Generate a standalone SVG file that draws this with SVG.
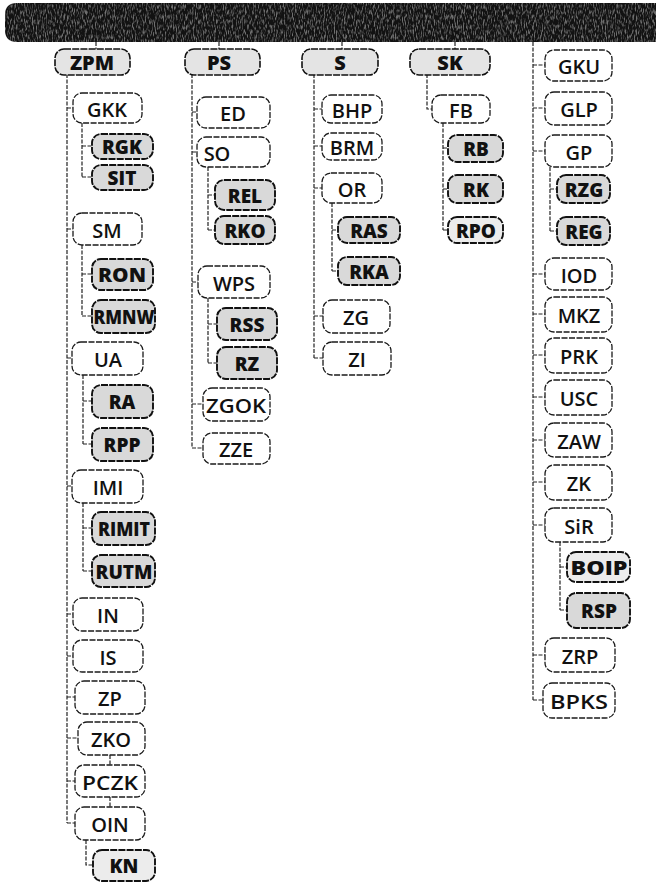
<svg xmlns="http://www.w3.org/2000/svg" width="656" height="883" viewBox="0 0 656 883">
<defs>
<style>
.n rect{fill:#fff;stroke:#1a1a1a;stroke-width:1.3;stroke-dasharray:6 1.5}
.b rect{fill:#d9d9d9;stroke:#111;stroke-width:1.9;stroke-dasharray:7 1.2}
.t rect{fill:#e4e4e4;stroke:#111;stroke-width:1.6;stroke-dasharray:7 1.2}
text{font-family:"Open Sans","DejaVu Sans",sans-serif;font-size:20px;font-weight:600;text-anchor:middle;dominant-baseline:central;fill:#111}
.b text{font-weight:800;font-size:19px}
.t text{font-weight:800;font-size:20px}
#conn path{fill:none;stroke:#222;stroke-width:1.2;stroke-dasharray:4 1.5}
</style>
<filter id="noise" x="0" y="0" width="100%" height="100%">
<feTurbulence type="fractalNoise" baseFrequency="0.9 0.2" numOctaves="2" seed="7"/>
<feColorMatrix type="matrix" values="0 0 0 0 1  0 0 0 0 1  0 0 0 0 1  3.5 0 0 0 -1.6"/>
</filter>
<clipPath id="bandclip"><path d="M5 15 Q5 3 17 3 H656 V42 H17 Q5 42 5 30 Z"/></clipPath>
</defs>
<rect width="656" height="883" fill="#fff"/>
<g id="band">
<path d="M5 15 Q5 3 17 3 H656 V42 H17 Q5 42 5 30 Z" fill="#121212"/>
<rect x="5" y="3" width="651" height="39" filter="url(#noise)" clip-path="url(#bandclip)" opacity="0.4"/>
</g>
<g id="conn">
<path d="M96 42V49M219 42V49M342 42V49M455 42V49"/>
<path d="M67 74V823M67 108H73M67 229H73M67 358H72M67 486H72M67 614H73M67 656H73M67 697H75M67 738H78M67 781H75M67 823H75"/>
<path d="M82 123V177M82 146H92M82 177H92"/>
<path d="M82 245V316M82 274H92M82 316H92"/>
<path d="M83 375V444M83 401H92M83 444H92"/>
<path d="M83 503V571M83 528H92M83 571H92"/>
<path d="M86 840V865H93"/>
<path d="M110 755V765M110 797V807"/>
<path d="M192 74V448M192 112H197M192 152H197M192 282H198M192 404H203M192 448H203"/>
<path d="M208 167V230M208 195H215M208 230H215"/>
<path d="M208 298V363M208 324H217M208 363H217"/>
<path d="M314 74V358M314 109H322M314 146H322M314 188H322M314 316H323M314 358H323"/>
<path d="M332 203V271M332 230H338M332 271H338"/>
<path d="M427 74V109H432"/>
<path d="M443 123V230M443 148H448M443 189H448M443 230H448"/>
<path d="M533 42V700M533 65H545M533 108H545M533 151H545M533 274H545M533 314H545M533 355H545M533 397H545M533 440H545M533 482H545M533 525H545M533 655H545M533 700H543"/>
<path d="M550 167V231M550 189H557M550 231H557"/>
<path d="M560 542V610M560 567H567M560 610H567"/>
</g>
<g id="ZPM" class="t"><rect x="55" y="49" width="75" height="26" rx="9"/><text x="92" y="62">ZPM</text></g>
<g id="GKK" class="n"><rect x="73" y="93" width="69" height="30" rx="9"/><text x="107" y="109">GKK</text></g>
<g id="RGK" class="b"><rect x="92" y="134" width="61" height="25" rx="9"/><text x="122" y="147">RGK</text></g>
<g id="SIT" class="b"><rect x="92" y="165" width="61" height="25" rx="9"/><text x="122" y="178">SIT</text></g>
<g id="SM" class="n"><rect x="73" y="213" width="69" height="32" rx="9"/><text x="107" y="230">SM</text></g>
<g id="RON" class="b"><rect x="92" y="259" width="61" height="31" rx="9"/><text x="122" y="275" font-size="16" textLength="48" lengthAdjust="spacingAndGlyphs">RON</text></g>
<g id="RMNW" class="b"><rect x="92" y="300" width="63" height="33" rx="9"/><text x="124" y="317" textLength="61" lengthAdjust="spacingAndGlyphs">RMNW</text></g>
<g id="UA" class="n"><rect x="72" y="342" width="71" height="33" rx="9"/><text x="108" y="359">UA</text></g>
<g id="RA" class="b"><rect x="92" y="385" width="61" height="33" rx="9"/><text x="122" y="402">RA</text></g>
<g id="RPP" class="b"><rect x="92" y="428" width="61" height="33" rx="9"/><text x="122" y="445">RPP</text></g>
<g id="IMI" class="n"><rect x="72" y="470" width="71" height="33" rx="9"/><text x="108" y="487">IMI</text></g>
<g id="RIMIT" class="b"><rect x="92" y="512" width="63" height="33" rx="9"/><text x="124" y="529" font-size="16" textLength="52" lengthAdjust="spacingAndGlyphs">RIMIT</text></g>
<g id="RUTM" class="b"><rect x="92" y="555" width="63" height="32" rx="9"/><text x="124" y="572" textLength="57" lengthAdjust="spacingAndGlyphs">RUTM</text></g>
<g id="IN" class="n"><rect x="73" y="598" width="70" height="33" rx="9"/><text x="108" y="615">IN</text></g>
<g id="IS" class="n"><rect x="73" y="640" width="70" height="32" rx="9"/><text x="108" y="657">IS</text></g>
<g id="ZP" class="n"><rect x="75" y="681" width="70" height="33" rx="9"/><text x="110" y="698">ZP</text></g>
<g id="ZKO" class="n"><rect x="78" y="722" width="67" height="33" rx="9"/><text x="111" y="739">ZKO</text></g>
<g id="PCZK" class="n"><rect x="75" y="765" width="70" height="32" rx="9"/><text x="110" y="782" textLength="56" lengthAdjust="spacingAndGlyphs">PCZK</text></g>
<g id="OIN" class="n"><rect x="75" y="807" width="70" height="33" rx="9"/><text x="110" y="824">OIN</text></g>
<g id="KN" class="b"><rect x="93" y="850" width="62" height="31" rx="9" style="fill:#ececec"/><text x="124" y="866">KN</text></g>
<g id="PS" class="t"><rect x="185" y="49" width="75" height="26" rx="9"/><text x="219" y="62">PS</text></g>
<g id="ED" class="n"><rect x="197" y="97" width="73" height="31" rx="9"/><text x="233" y="113">ED</text></g>
<g id="SO" class="n"><rect x="197" y="137" width="73" height="30" rx="9"/><text x="217" y="153">SO</text></g>
<g id="REL" class="b"><rect x="215" y="180" width="60" height="30" rx="9"/><text x="245" y="196">REL</text></g>
<g id="RKO" class="b"><rect x="215" y="216" width="60" height="28" rx="9"/><text x="245" y="231">RKO</text></g>
<g id="WPS" class="n"><rect x="198" y="266" width="72" height="32" rx="9"/><text x="234" y="283">WPS</text></g>
<g id="RSS" class="b"><rect x="217" y="308" width="60" height="32" rx="9"/><text x="247" y="325">RSS</text></g>
<g id="RZ" class="b"><rect x="217" y="347" width="60" height="32" rx="9"/><text x="247" y="364">RZ</text></g>
<g id="ZGOK" class="n"><rect x="203" y="388" width="67" height="33" rx="9"/><text x="236" y="405" textLength="60" lengthAdjust="spacingAndGlyphs">ZGOK</text></g>
<g id="ZZE" class="n"><rect x="203" y="433" width="67" height="31" rx="9"/><text x="236" y="449">ZZE</text></g>
<g id="S" class="t"><rect x="302" y="49" width="76" height="26" rx="9"/><text x="340" y="62">S</text></g>
<g id="BHP" class="n"><rect x="322" y="95" width="60" height="28" rx="9"/><text x="352" y="110">BHP</text></g>
<g id="BRM" class="n"><rect x="322" y="133" width="60" height="27" rx="9"/><text x="352" y="147">BRM</text></g>
<g id="OR" class="n"><rect x="322" y="173" width="60" height="30" rx="9"/><text x="352" y="189">OR</text></g>
<g id="RAS" class="b"><rect x="338" y="217" width="62" height="26" rx="9"/><text x="369" y="231">RAS</text></g>
<g id="RKA" class="b"><rect x="338" y="257" width="62" height="28" rx="9"/><text x="369" y="272">RKA</text></g>
<g id="ZG" class="n"><rect x="323" y="300" width="67" height="33" rx="9"/><text x="356" y="317">ZG</text></g>
<g id="ZI" class="n"><rect x="323" y="342" width="68" height="33" rx="9"/><text x="357" y="359">ZI</text></g>
<g id="SK" class="t"><rect x="410" y="49" width="80" height="26" rx="9"/><text x="450" y="62">SK</text></g>
<g id="FB" class="n"><rect x="432" y="95" width="58" height="28" rx="9"/><text x="461" y="110">FB</text></g>
<g id="RB" class="b"><rect x="448" y="135" width="55" height="27" rx="9"/><text x="476" y="149">RB</text></g>
<g id="RK" class="b"><rect x="448" y="175" width="55" height="28" rx="9"/><text x="476" y="190">RK</text></g>
<g id="RPO" class="b"><rect x="448" y="217" width="55" height="26" rx="9" style="fill:#ececec"/><text x="476" y="231">RPO</text></g>
<g id="GKU" class="n"><rect x="545" y="50" width="67" height="31" rx="9"/><text x="579" y="66">GKU</text></g>
<g id="GLP" class="n"><rect x="545" y="92" width="67" height="33" rx="9"/><text x="579" y="109">GLP</text></g>
<g id="GP" class="n"><rect x="545" y="135" width="67" height="32" rx="9"/><text x="579" y="152">GP</text></g>
<g id="RZG" class="b"><rect x="557" y="175" width="53" height="28" rx="9"/><text x="584" y="190">RZG</text></g>
<g id="REG" class="b"><rect x="557" y="217" width="53" height="28" rx="9"/><text x="584" y="232">REG</text></g>
<g id="IOD" class="n"><rect x="545" y="258" width="67" height="32" rx="9"/><text x="579" y="275">IOD</text></g>
<g id="MKZ" class="n"><rect x="545" y="297" width="67" height="35" rx="9"/><text x="579" y="315">MKZ</text></g>
<g id="PRK" class="n"><rect x="545" y="338" width="67" height="35" rx="9"/><text x="579" y="356">PRK</text></g>
<g id="USC" class="n"><rect x="545" y="380" width="67" height="35" rx="9"/><text x="579" y="398">USC</text></g>
<g id="ZAW" class="n"><rect x="545" y="423" width="67" height="34" rx="9"/><text x="579" y="441">ZAW</text></g>
<g id="ZK" class="n"><rect x="545" y="465" width="67" height="35" rx="9"/><text x="579" y="483">ZK</text></g>
<g id="SiR" class="n"><rect x="545" y="508" width="67" height="34" rx="9"/><text x="579" y="526">SiR</text></g>
<g id="BOIP" class="b"><rect x="567" y="552" width="63" height="30" rx="9" style="fill:#ececec"/><text x="599" y="568" textLength="57" lengthAdjust="spacingAndGlyphs">BOIP</text></g>
<g id="RSP" class="b"><rect x="567" y="593" width="63" height="35" rx="9"/><text x="599" y="611">RSP</text></g>
<g id="ZRP" class="n"><rect x="545" y="638" width="70" height="34" rx="9"/><text x="580" y="656">ZRP</text></g>
<g id="BPKS" class="n"><rect x="543" y="683" width="72" height="35" rx="9"/><text x="579" y="701" textLength="58" lengthAdjust="spacingAndGlyphs">BPKS</text></g>
</svg>
